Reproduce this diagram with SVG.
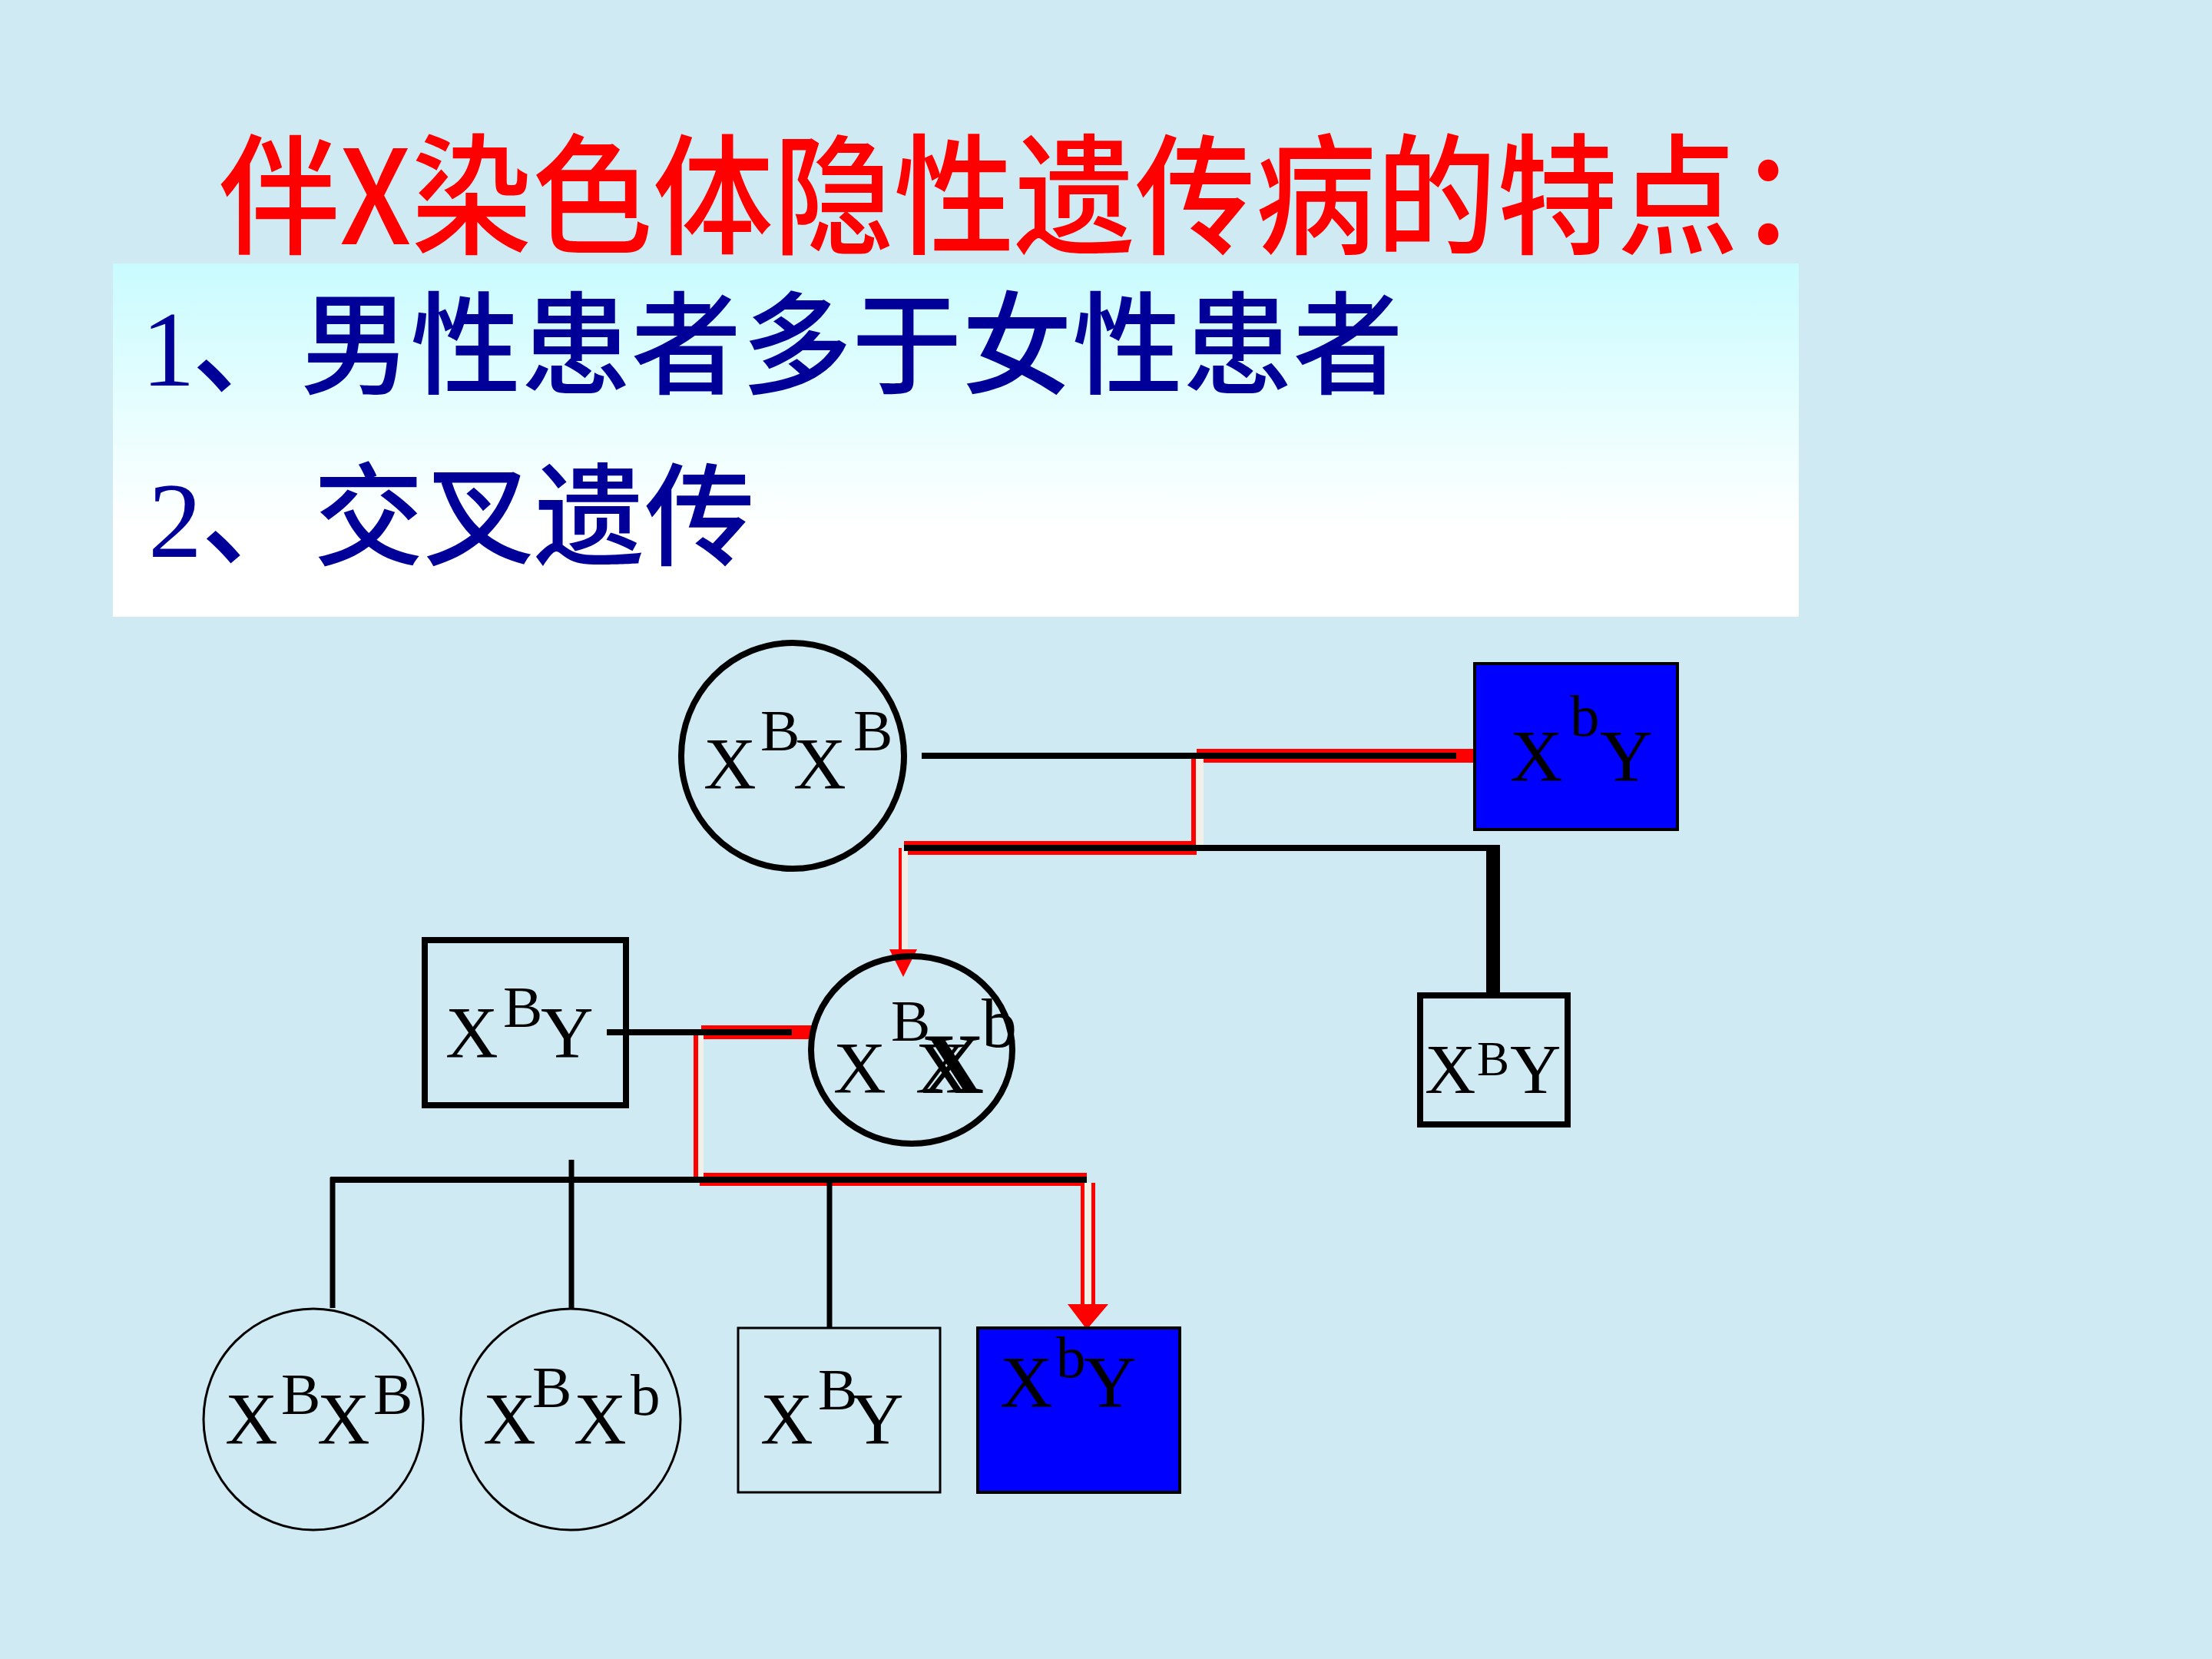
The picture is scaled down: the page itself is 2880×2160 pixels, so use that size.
<svg xmlns="http://www.w3.org/2000/svg" width="2880" height="2160" viewBox="0 0 2880 2160">
<defs>
<linearGradient id="boxg" x1="0" y1="0" x2="0" y2="1">
<stop offset="0" stop-color="#c9fbfe"/>
<stop offset="0.75" stop-color="#ffffff"/>
<stop offset="1" stop-color="#ffffff"/>
</linearGradient>
<style>
.g{font-family:"Liberation Serif","Times New Roman",serif;fill:#000}
.m{font-size:95px}
.s{font-size:77px}
.cj{font-family:"Noto Sans CJK SC","Noto Sans",sans-serif}
.bl{stroke:#000;fill:none}
.red{fill:#ff0000}
.wh{fill:#f2efe6}
</style>
</defs>
<rect x="0" y="0" width="2880" height="2160" fill="#d0eaf4"/>

<g id="title">
<text x="285" y="318" class="cj" font-size="170" font-weight="500" fill="#ff0000" textLength="2135" lengthAdjust="spacingAndGlyphs">伴X染色体隐性遗传病的特点：</text>
</g>

<g id="textbox">
<rect x="147" y="343" width="2195" height="460" fill="url(#boxg)"/>
<text y="502" fill="#000099" font-size="145"><tspan x="184" font-family="Liberation Serif,serif" font-size="140">1</tspan><tspan x="250" class="cj" font-weight="500">、</tspan><tspan x="391" class="cj" font-weight="500" textLength="1436" lengthAdjust="spacingAndGlyphs">男性患者多于女性患者</tspan></text>
<text y="725" fill="#000099" font-size="145"><tspan x="193" font-family="Liberation Serif,serif" font-size="140">2</tspan><tspan x="262" class="cj" font-weight="500">、</tspan><tspan x="408" class="cj" font-weight="500" textLength="575" lengthAdjust="spacingAndGlyphs">交叉遗传</tspan></text>
</g>

<g id="connectors">
<!-- red highlight path 1 -->
<rect class="red" x="1558" y="975" width="360" height="18"/>
<rect class="red" x="1177" y="1095" width="381" height="18"/>
<rect class="red" x="1551" y="984" width="6" height="116"/>
<rect class="wh" x="1557" y="988" width="10" height="112"/>
<rect class="red" x="1170" y="1104" width="4" height="140"/>
<rect class="wh" x="1174" y="1108" width="8" height="137"/>
<polygon class="red" points="1158,1236 1194,1236 1176,1272"/>
<!-- red highlight path 2 -->
<rect class="red" x="913" y="1335" width="144" height="18"/>
<rect class="red" x="911" y="1527" width="504" height="17"/>
<rect class="red" x="903" y="1344" width="6" height="188"/>
<rect class="wh" x="909" y="1348" width="7" height="184"/>
<rect class="red" x="1407" y="1540" width="5" height="160"/>
<rect class="wh" x="1412" y="1540" width="9" height="160"/>
<rect class="red" x="1421" y="1540" width="5" height="160"/>
<polygon class="red" points="1390,1698 1443,1698 1415,1731"/>
<!-- black lines -->
<line class="bl" x1="1200" y1="984" x2="1896" y2="984" stroke-width="8"/>
<line class="bl" x1="1177" y1="1104" x2="1944" y2="1104" stroke-width="8"/>
<line class="bl" x1="1944" y1="1100" x2="1944" y2="1293" stroke-width="18"/>
<line class="bl" x1="790" y1="1344" x2="1031" y2="1344" stroke-width="8"/>
<line class="bl" x1="430" y1="1536" x2="1415" y2="1536" stroke-width="8"/>
<line class="bl" x1="433" y1="1533" x2="433" y2="1703" stroke-width="7"/>
<line class="bl" x1="744" y1="1510" x2="744" y2="1703" stroke-width="7"/>
<line class="bl" x1="1080" y1="1533" x2="1080" y2="1728" stroke-width="7"/>
</g>

<g id="grandmother">
<ellipse class="bl" cx="1032" cy="984" rx="145" ry="147" stroke-width="8"/>
<text class="g"><tspan class="m" x="916" y="1027">X</tspan><tspan class="s" x="990" y="977">B</tspan><tspan class="m" x="1033" y="1027">X</tspan><tspan class="s" x="1111" y="977">B</tspan></text>
</g>

<g id="grandfather">
<rect x="1920" y="864" width="264" height="216" fill="#0000ff" stroke="#000" stroke-width="4"/>
<text class="g"><tspan class="m" x="1966" y="1017">X</tspan><tspan class="s" x="2044" y="958">b</tspan><tspan class="m" x="2083" y="1017">Y</tspan></text>
</g>

<g id="uncle">
<rect class="bl" x="1849" y="1296" width="192" height="168" stroke-width="8"/>
<text class="g"><tspan font-size="92" x="1855" y="1423">X</tspan><tspan font-size="63" x="1923" y="1400">B</tspan><tspan font-size="92" x="1966" y="1423">Y</tspan></text>
</g>

<g id="father">
<rect class="bl" x="553" y="1224" width="262" height="215" stroke-width="8"/>
<text class="g"><tspan class="m" x="580" y="1377">X</tspan><tspan class="s" x="655" y="1337">B</tspan><tspan class="m" x="704" y="1377">Y</tspan></text>
</g>

<g id="mother">
<ellipse class="bl" cx="1187" cy="1367" rx="131" ry="122" stroke-width="8"/>
<text class="g"><tspan class="m" x="1085" y="1423">X</tspan><tspan class="s" x="1160" y="1355">B</tspan><tspan class="m" x="1192" y="1423">X</tspan><tspan font-size="92" x="1278" y="1363">b</tspan></text>
<text class="g" x="1200" y="1423" font-size="112" font-weight="bold">X</text>
</g>

<g id="child1">
<ellipse class="bl" cx="408" cy="1848" rx="143" ry="144" stroke-width="3"/>
<text class="g"><tspan class="m" x="293" y="1880">X</tspan><tspan class="s" x="366" y="1841">B</tspan><tspan class="m" x="413" y="1880">X</tspan><tspan class="s" x="486" y="1841">B</tspan></text>
</g>

<g id="child2">
<ellipse class="bl" cx="743" cy="1848" rx="143" ry="144" stroke-width="3"/>
<text class="g"><tspan class="m" x="629" y="1880">X</tspan><tspan class="s" x="693" y="1832">B</tspan><tspan class="m" x="747" y="1880">X</tspan><tspan class="s" x="821" y="1842">b</tspan></text>
</g>

<g id="child3">
<rect class="bl" x="961" y="1729" width="263" height="214" stroke-width="3"/>
<text class="g"><tspan class="m" x="990" y="1880">X</tspan><tspan class="s" x="1065" y="1835">B</tspan><tspan class="m" x="1108" y="1880">Y</tspan></text>
</g>

<g id="child4">
<rect x="1273" y="1729" width="263" height="214" fill="#0000ff" stroke="#000" stroke-width="4"/>
<text class="g"><tspan class="m" x="1302" y="1832">X</tspan><tspan class="s" x="1375" y="1793">b</tspan><tspan class="m" x="1411" y="1832">Y</tspan></text>
</g>
</svg>
